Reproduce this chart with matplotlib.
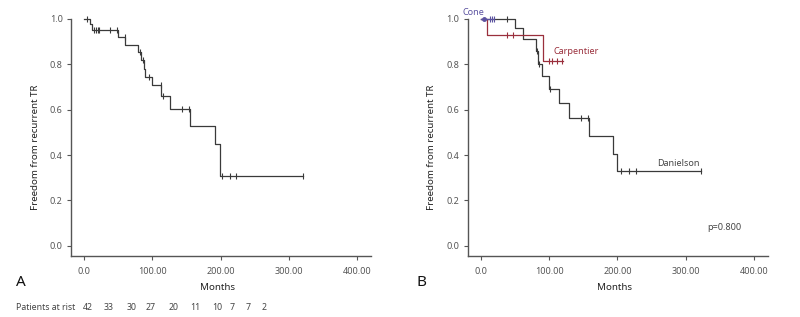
import matplotlib
matplotlib.use("Agg")
import matplotlib.pyplot as plt
from matplotlib.transforms import blended_transform_factory
import numpy as np

plt.rcParams['font.family'] = ['Noto Sans', 'DejaVu Sans']

# ---------------- data ----------------
# Panel A: overall
a_times = [0, 8.8, 12, 49.6, 60, 79.5, 83.4, 87.8, 89.8, 100, 113, 126, 155, 192, 198.5]
a_surv = [1.0, 0.979, 0.952, 0.920, 0.887, 0.855, 0.820, 0.780, 0.746, 0.710, 0.660, 0.605, 0.527, 0.449, 0.307]
a_end = 320
a_cens = [5, 15, 17.6, 20, 22, 38, 48, 59.5, 82, 86, 95.6, 112, 116, 144, 154, 202, 213, 222, 320]

# Panel B: by technique
dan_times = [0, 50, 61.5, 81, 84, 89, 99.5, 115, 129, 158, 194, 200]
dan_surv = [1.0, 0.960, 0.912, 0.860, 0.800, 0.750, 0.690, 0.630, 0.564, 0.482, 0.403, 0.331]
dan_end = 323
dan_cens = [39, 83, 86, 101.5, 147, 157.5, 205, 216.6, 227, 323]

car_times = [0, 9.7, 90.5]
car_surv = [1.0, 0.928, 0.813]
car_end = 120
car_cens = [38, 47, 99.5, 105, 111, 119.5]

cone_times = [0]
cone_surv = [1.0]
cone_end = 20
cone_cens = [13.6, 17, 20]

risk_counts = [42, 33, 30, 27, 20, 11, 10, 7, 7, 2]
risk_px = [88, 109, 132, 151, 174, 195, 217, 232, 248, 264]

xticks = [0, 100, 200, 300, 400]
xticklabels = ["0.0", "100.00", "200.00", "300.00", "400.00"]
yticks = [0.0, 0.2, 0.4, 0.6, 0.8, 1.0]

# ---------------- helpers ----------------
def step_xy(times, surv, end):
    xs, ys = [], []
    for i, (t, s) in enumerate(zip(times, surv)):
        if i > 0:
            xs.append(t); ys.append(surv[i - 1])
        xs.append(t); ys.append(s)
    xs.append(end); ys.append(surv[-1])
    return xs, ys

def surv_at(times, surv, t):
    idx = np.searchsorted(times, t, side='right') - 1
    return surv[max(idx, 0)]

def draw_km(ax, times, surv, end, cens, color, lw=0.9):
    xs, ys = step_xy(times, surv, end)
    ax.plot(xs, ys, color=color, lw=lw, clip_on=False, zorder=3)
    cy = [surv_at(times, surv, c) for c in cens]
    ax.plot(cens, cy, linestyle='none', marker='|', markersize=4.5,
            markeredgewidth=0.8, color=color, clip_on=False, zorder=4)

W, H = 800, 317
fig = plt.figure(figsize=(8.0, 3.17), dpi=100)

spine_col = '#555555'
tick_col = '#555555'
line_col = '#3a3a3a'

def setup(ax):
    ax.set_xlim(-19, 420)
    ax.set_ylim(-0.0454, 1.0)
    for s in ['top', 'right']:
        ax.spines[s].set_visible(False)
    for s in ['left', 'bottom']:
        ax.spines[s].set_color(spine_col)
        ax.spines[s].set_linewidth(1.0)
    ax.set_xticks(xticks)
    ax.set_xticklabels(xticklabels)
    ax.set_yticks(yticks)
    ax.set_yticklabels(["%.1f" % v for v in yticks])
    ax.tick_params(axis='both', direction='out', length=3, width=0.8,
                   colors=tick_col, labelsize=6.5, pad=3)
    ax.tick_params(axis='x', pad=5)

axA = fig.add_axes([71 / W, (H - 256) / H, 300 / W, (256 - 19) / H])
axB = fig.add_axes([467.7 / W, (H - 256) / H, 300 / W, (256 - 19) / H])
setup(axA); setup(axB)

# Panel A
draw_km(axA, a_times, a_surv, a_end, a_cens, line_col)

# Panel B
cone_col = '#5b52a0'
car_col = '#9a2f3c'
draw_km(axB, dan_times, dan_surv, dan_end, dan_cens, line_col)
draw_km(axB, car_times, car_surv, car_end, car_cens, car_col)
draw_km(axB, cone_times, cone_surv, cone_end, cone_cens, cone_col)
axB.plot([5], [1.0], marker='o', markersize=2.5, color=cone_col, clip_on=False, zorder=5)

def fx(px): return px / W
def fy(py): return (H - py) / H

fig.text(fx(484), fy(12.5), "Cone", color=cone_col, fontsize=6.5, ha='right', va='center')
fig.text(fx(554), fy(51.5), "Carpentier", color=car_col, fontsize=6.5, ha='left', va='center')
fig.text(fx(657), fy(163), "Danielson", color='#444444', fontsize=6.5, ha='left', va='center')
fig.text(fx(707), fy(227), "p=0.800", color='#444444', fontsize=6.5, ha='left', va='center')

# axis labels
for x0, ycen in [(35, 147), (432, 147)]:
    fig.text(fx(x0), fy(ycen), "Freedom from recurrent TR", rotation=90, fontsize=7,
             fontweight='bold', color='#222222', ha='center', va='center')
fig.text(fx(218), fy(288), "Months", fontsize=7, fontweight='bold', color='#222222',
         ha='center', va='center')
fig.text(fx(615), fy(288), "Months", fontsize=7, fontweight='bold', color='#222222',
         ha='center', va='center')
fig.text(fx(16), fy(283), "A", fontsize=11, fontweight='bold', color='#111111',
         ha='left', va='center')
fig.text(fx(416), fy(283), "B", fontsize=11, fontweight='bold', color='#111111',
         ha='left', va='center')

# patients at risk
fig.text(fx(16), fy(307), "Patients at rist", fontsize=6.3, color='#444444', ha='left', va='center')
for n, px in zip(risk_counts, risk_px):
    fig.text(fx(px), fy(307), str(n), fontsize=6.3, color='#444444', ha='center', va='center')

fig.savefig("out.png", dpi=100)
